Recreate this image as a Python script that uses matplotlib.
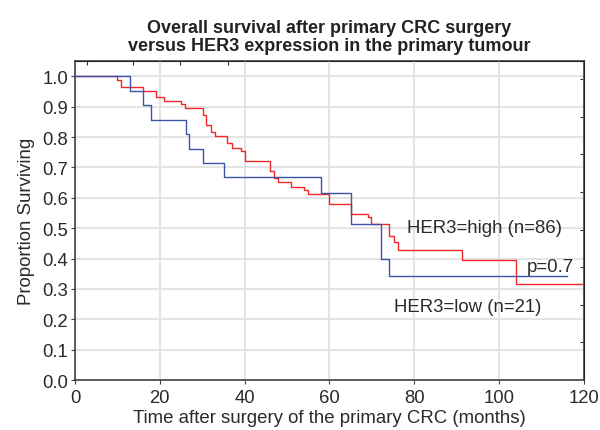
import numpy as np
import matplotlib
matplotlib.use('Agg')
import matplotlib.pyplot as plt

plt.rcParams['font.family'] = ['Liberation Sans', 'DejaVu Sans']

# Kaplan-Meier steps (months, proportion surviving)
low_t = [0, 13.0, 16.0, 17.9, 26.1, 26.9, 30.1, 35.1, 58.0, 65.0, 72.1, 74.0, 116.1]
low_s = [1.0, 0.952, 0.905, 0.857, 0.810, 0.762, 0.714, 0.667, 0.617, 0.513, 0.398, 0.342, 0.342]

high_t = [0, 10.0, 10.9, 16.0, 19.1, 21.1, 25.0, 25.9, 30.1, 31.0, 32.0, 33.0, 35.8,
          37.1, 39.1, 40.0, 46.0, 47.0, 47.9, 50.9, 54.1, 55.0, 60.0, 65.1, 69.0,
          69.9, 74.0, 75.2, 76.1, 91.2, 104.1, 120]
high_s = [1.0, 0.988, 0.966, 0.953, 0.932, 0.919, 0.908, 0.896, 0.872, 0.839, 0.817,
          0.802, 0.780, 0.765, 0.754, 0.721, 0.688, 0.664, 0.652, 0.637, 0.626, 0.611,
          0.581, 0.548, 0.535, 0.513, 0.475, 0.453, 0.428, 0.396, 0.317, 0.317]

fig = plt.figure(figsize=(6, 4.31), dpi=100)
ax = fig.add_axes([0.125, 0.116, 0.848, 0.74])

ax.step(high_t, high_s, where='post', color='#f0282a', lw=1.0, zorder=3)
ax.step(low_t, low_s, where='post', color='#3a55a8', lw=1.0, zorder=4)

ax.set_xlim(0, 120)
ax.set_ylim(0, 1.05)
ax.set_xticks(np.arange(0, 121, 20))
ax.set_yticks(np.arange(0, 1.01, 0.1))
ax.set_yticklabels(['%.1f' % v for v in np.arange(0, 1.01, 0.1)])
ax.grid(True, color='#e2e2e2', lw=1.3)
ax.set_axisbelow(True)
ax.tick_params(axis='both', labelsize=13.3, length=3, width=0.8, color='#444444',
               labelcolor='#2a2a2a', pad=2)
ax.tick_params(axis='x', pad=3.5)

for s in ax.spines.values():
    s.set_color('#333333')
    s.set_linewidth(1.1)

# small extra ticks on the top and right frame
top = ax.secondary_xaxis('top')
top.set_xticks([2.75, 13.75, 24.75, 36.1])
top.set_xticklabels([])
top.tick_params(direction='in', length=3, width=0.8, color='#333333')
right = ax.secondary_yaxis('right')
right.set_yticks(np.arange(0, 1.0, 0.1237) + 0.124)
right.set_yticklabels([])
right.tick_params(direction='in', length=3, width=0.8, color='#333333')

ax.set_xlabel('Time after surgery of the primary CRC (months)', fontsize=13.4,
              color='#2a2a2a', labelpad=2)
ax.set_ylabel('Proportion Surviving', fontsize=13.4, color='#2a2a2a', labelpad=5)
ax.set_title('Overall survival after primary CRC surgery\nversus HER3 expression in the primary tumour',
             fontsize=13, fontweight='bold', color='#222222', pad=8, linespacing=1.05)

ax.text(96.5, 0.503, 'HER3=high (n=86)', fontsize=13.4, ha='center', va='center', color='#2a2a2a')
ax.text(112.0, 0.375, 'p=0.7', fontsize=13.4, ha='center', va='center', color='#2a2a2a')
ax.text(92.5, 0.243, 'HER3=low (n=21)', fontsize=13.4, ha='center', va='center', color='#2a2a2a')

fig.savefig('out.png', dpi=100)
